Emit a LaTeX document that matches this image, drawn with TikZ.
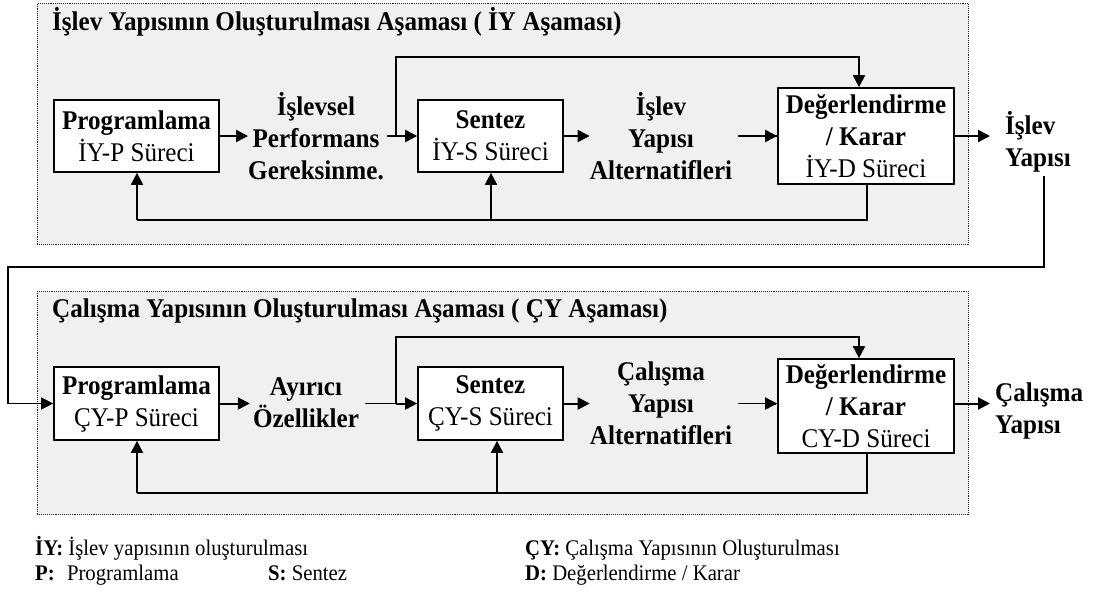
\documentclass[tikz,border=0pt]{standalone}
\usepackage{fontspec}
\setmainfont{Liberation Serif}[FakeStretch=0.93]
\usetikzlibrary{arrows.meta}
\begin{document}
\begin{tikzpicture}[x=1pt,y=-1pt,
  panel/.style={draw=black!85,densely dotted,line width=0.9pt,fill=black!6},
  box/.style={draw,line width=1.7pt,fill=white,inner sep=0pt,align=center,
    font=\fontsize{27}{32}\selectfont},
  lbl/.style={align=center,inner sep=0pt,font=\fontsize{27}{32}\selectfont\bfseries},
  ttl/.style={anchor=west,inner sep=0pt,font=\fontsize{27}{32}\selectfont\bfseries},
  leg/.style={anchor=base west,inner sep=0pt,font=\fontsize{22.3}{25}\selectfont},
  tip/.style={-{Triangle[length=12pt,width=12pt]}},
  flow/.style={line width=2pt,tip},
  wire/.style={line width=2pt},
  thinwire/.style={line width=1.1pt},
  link/.style={line width=1.4pt}
]
\useasboundingbox (0,0) rectangle (1105,598);

% ---------- top panel ----------
\node[panel,minimum width=931pt,minimum height=241pt,anchor=north west,inner sep=0pt] (pan1) at (37,3) {};
\node[ttl] (ttl1) at (52,22) {İşlev Yapısının Oluşturulması Aşaması ( İY Aşaması)};

\node[box,minimum width=165pt,minimum height=72pt] (p1) at (136.5,136) {\textbf{Programlama}\\İY-P Süreci};
\node[lbl] (t1) at (316,136) {İşlevsel\\Performans\\Gereksinme.};
\node[box,minimum width=145pt,minimum height=72pt] (s1) at (490.5,136) {\textbf{Sentez}\\İY-S Süreci};
\node[lbl] (t2) at (661,136) {İşlev\\Yapısı\\Alternatifleri};
\node[box,minimum width=176pt,minimum height=96pt] (d1) at (866,136) {\textbf{Değerlendirme}\\\textbf{/ Karar}\\İY-D Süreci};
\node[lbl,align=left,anchor=west] (t3) at (1005,142) {İşlev\\Yapısı};

\coordinate (j1) at (396,136);
\coordinate (a1) at (859,57);
\coordinate (k1) at (738,136);
\coordinate (o1) at (990,136);
\coordinate (fb1r) at (867,220);
\coordinate (fb1m) at (491,220);
\coordinate (fb1l) at (137,220);

\draw[flow] (p1.east) -- (p1.east -| t1.west);
\draw[thinwire] ([xshift=3pt]t1.east |- j1) -- (j1);
\draw[flow] (j1) -- (s1.west |- j1);
\draw[flow] (j1) |- (a1) -- (a1 |- d1.north);
\draw[flow] (s1.east) -- (s1.east -| t2.west);
\draw[thinwire] (k1) -- (d1.west |- k1);
\draw[flow] ([xshift=-1pt]d1.west |- k1) -- (d1.west |- k1);
\draw[flow] (d1.east |- o1) -- (o1);
\draw[wire] (fb1r |- d1.south) -- (fb1r) -- (fb1l);
\draw[flow] (fb1l) -- (fb1l |- p1.south);
\draw[flow] (fb1m) -- (fb1m |- s1.south);

% ---------- link between panels ----------
\coordinate (c1) at (1044,176);
\coordinate (c2) at (1044,267);
\coordinate (c3) at (8,267);

% ---------- bottom panel ----------
\node[panel,minimum width=931pt,minimum height=223pt,anchor=north west,inner sep=0pt] (pan2) at (37,291) {};
\node[ttl] (ttl2) at (52,311) {Çalışma Yapısının Oluşturulması Aşaması ( ÇY Aşaması)};

\node[box,minimum width=165pt,minimum height=73pt] (p2) at (136.5,403.5) {\textbf{Programlama}\\ÇY-P Süreci};
\node[lbl] (t4) at (306,403) {Ayırıcı\\Özellikler};
\node[box,minimum width=145pt,minimum height=73pt] (s2) at (490.5,403.5) {\textbf{Sentez}\\ÇY-S Süreci};
\node[lbl] (t5) at (661,403) {Çalışma\\Yapısı\\Alternatifleri};
\node[box,minimum width=176pt,minimum height=94pt] (d2) at (866,406) {\textbf{Değerlendirme}\\\textbf{/ Karar}\\CY-D Süreci};
\node[lbl,align=left,anchor=west] (t6) at (995,411) {Çalışma\\Yapısı};

\coordinate (j2) at (396,403.5);
\coordinate (a2) at (859,337);
\coordinate (k2) at (738,403.5);
\coordinate (o2) at (990,403.5);
\coordinate (fb2r) at (867,493);
\coordinate (fb2m) at (497,493);
\coordinate (fb2l) at (137,493);

\draw[link] (c1) -- (c2) -- (c3) -- (c3 |- p2.west);
\draw[link,tip] (c3 |- p2.west) -- (p2.west);

\draw[flow] (p2.east) -- ([xshift=-3pt]p2.east -| t4.west);
\draw[thinwire] ([xshift=6pt]t4.east |- j2) -- (j2);
\draw[flow] (j2) -- (s2.west |- j2);
\draw[flow] (j2) |- (a2) -- (a2 |- d2.north);
\draw[flow] (s2.east) -- (s2.east -| t5.west);
\draw[thinwire] (k2) -- (d2.west |- k2);
\draw[flow] ([xshift=-1pt]d2.west |- k2) -- (d2.west |- k2);
\draw[flow] (d2.east |- o2) -- (o2);
\draw[wire] (fb2r |- d2.south) -- (fb2r) -- (fb2l);
\draw[flow] (fb2l) -- (fb2l |- p2.south);
\draw[flow] (fb2m) -- (fb2m |- s2.south);

% ---------- legend ----------
\node[leg] (l1) at (35,555) {\textbf{İY:} İşlev yapısının oluşturulması};
\node[leg] (l2) at (525,555) {\textbf{ÇY:} Çalışma Yapısının Oluşturulması};
\node[leg] (l3) at (35,580) {\textbf{P:}\hspace{0.55em}Programlama};
\node[leg] (l4) at (268,580) {\textbf{S:} Sentez};
\node[leg] (l5) at (525,580) {\textbf{D:} Değerlendirme / Karar};
\end{tikzpicture}
\end{document}
